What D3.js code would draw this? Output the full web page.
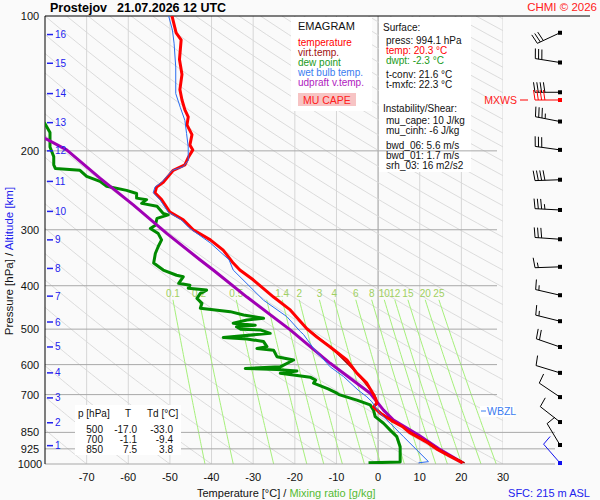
<!DOCTYPE html>
<html>
<head>
<meta charset="utf-8">
<script src="https://cdn.jsdelivr.net/npm/d3@7"></script>
<style>
body { margin: 0; background: #fafafa; }
svg { font-family: "Liberation Sans", Arial, sans-serif; }
</style>
</head>
<body>
<div id="chart"></div>
<script>
// pressure levels of the horizontal grid and temperature ticks
var pLevels = [200, 300, 400, 500, 600, 700, 850, 925, 1000];
var pLabels = [100, 200, 300, 400, 500, 600, 700, 850, 925, 1000];
var tTicks = [-70, -60, -50, -40, -30, -20, -10, 0, 10, 20, 30];
var isotherms = [-70, -60, -50, -40, -30, -20, -10, 0, 10, 20, 30];
var mixRatios = [0.1, 0.2, 0.5, 1, 1.4, 2, 3, 4, 6, 8, 10, 12, 15, 20, 25];
var mixLabels = ["0.1", "0.2", "0.5", "", "1.4", "2", "3", "4", "6", "8", "10", "12", "15", "20", "25"];

// altitude markers [km] at pressure [hPa]
var altKm = [1, 2, 3, 4, 5, 6, 7, 8, 9, 10, 11, 12, 13, 14, 15, 16];
var altP = [910, 809, 712, 626, 548, 482, 422, 366, 316, 273, 234, 200, 173, 149, 127.5, 110];

// sounding profiles: [pressure hPa, value degC]
var tempProfile = [[994,20.3],[960,17.2],[925,14.0],[898,12.0],[850,7.5],[827,6.0],[800,3.2],[770,0.5],[746,-1.1],[731,-0.3],[715,-0.6],[700,-1.1],[660,-2.7],[627,-5.1],[586,-7.5],[548,-11.5],[521,-14.7],[500,-17.0],[453,-21.1],[424,-25.1],[388,-30.0],[369,-33.2],[356,-34.8],[333,-37.2],[316,-40.3],[300,-44.4],[285,-46.8],[274,-50.0],[257,-52.0],[248,-53.6],[241,-53.2],[235,-51.6],[221,-49.2],[215,-46.4],[207,-45.6],[199,-44.5],[194,-45.2],[184,-44.7],[175,-45.9],[168,-45.6],[162,-46.4],[154,-47.1],[146,-47.6],[135,-47.1],[125,-47.7],[113,-47.3],[109,-48.5],[100,-49.5]];
var virtProfile = [[994,20.8],[960,17.6],[925,14.4],[898,12.4],[850,7.9],[800,3.5],[770,0.8],[746,-0.9],[731,-0.1],[700,-0.9],[627,-5.0],[548,-11.4],[500,-16.9]];
var dewProfile = [[994,-2.3],[990,5.3],[915,5.3],[869,4.5],[840,2.9],[811,1.3],[784,-0.7],[758,-1.1],[738,-1.9],[720,-5.1],[700,-9.4],[695,-9.9],[680,-12.0],[660,-15.5],[650,-15.0],[640,-16.3],[627,-23.5],[620,-19.5],[615,-24.3],[612,-31.9],[607,-23.5],[586,-20.3],[576,-24.3],[557,-25.1],[552,-29.1],[547,-26.7],[533,-27.5],[526,-31.5],[522,-37.2],[511,-25.9],[502,-28.3],[500,-33.0],[494,-34.0],[490,-29.5],[485,-34.8],[477,-31.5],[473,-27.5],[465,-32.3],[457,-35.5],[449,-42.7],[438,-42.3],[427,-43.5],[416,-42.7],[409,-41.2],[405,-45.6],[399,-45.2],[395,-47.9],[382,-46.8],[379,-48.4],[369,-51.6],[356,-53.9],[339,-53.5],[327,-52.8],[316,-52.0],[306,-52.8],[298,-54.7],[293,-53.5],[283,-53.1],[278,-50.4],[276,-51.6],[266,-53.1],[262,-56.8],[257,-55.6],[255,-58.0],[249,-58.0],[245,-60.4],[240,-65.2],[234,-66.8],[228,-70.0],[221,-71.6],[219,-77.5],[215,-77.9],[206,-77.9],[196,-78.8],[182,-78.8],[174,-80.0],[165,-82.0]];
var wetProfile = [[994,9.7],[988,12.1],[869,6.1],[811,2.9],[771,0.5],[745,-0.7],[726,-1.5],[708,-2.7],[684,-4.8],[638,-8.3],[607,-11.5],[552,-15.5],[514,-17.9],[506,-18.7],[469,-21.9],[431,-27.5],[369,-34.8],[350,-35.8],[321,-40.3],[297,-45.4],[285,-47.3],[274,-50.4],[257,-52.4],[248,-54.0],[241,-53.6],[235,-52.0],[221,-49.4],[217,-46.8],[210,-45.6],[196,-45.6],[183,-46.0],[171,-46.4],[160,-47.5],[149,-48.6],[130,-48.6],[115,-49.0],[107.5,-49.4],[100,-50.3]];
var parcelProfile = [[994,20.3],[925,14.6],[862,9.7],[798,3.7],[758,1.3],[695,-1.9],[596,-11.5],[502,-21.1],[424,-31.5],[369,-39.6],[350,-42.8],[306,-50.7],[264,-58.8],[230,-66.8],[199,-74.8],[187.5,-80],[180,-83]];

// wind barbs: pressure, direction (deg), speed
var windP = [995, 907, 806, 709, 626, 548, 480, 420, 363, 315, 271, 232, 199, 172, 148, 127, 109];
var windDir = [319, 329, 308, 304, 287, 289, 284, 283, 268, 274, 273, 268, 278, 281, 270, 279, 245];
var windSpd = [10, 10, 10, 10, 10, 20, 15, 15, 15, 30, 35, 40, 30, 35, 40, 30, 30];
var mxwsP = 154, mxwsDir = 270, mxwsSpd = 40;

// table values
var tableP = ["500", "700", "850"];
var tableT = ["-17.0", "-1.1", "7.5"];
var tableTd = ["-33.0", "-9.4", "3.8"];

var width = 600, height = 500;
var plotL = 45, plotR = 503, plotT = 16, plotB = 464;

var svg = d3.select("#chart").append("svg")
    .attr("width", width)
    .attr("height", height)
    .style("background", "#fafafa");

var x = d3.scaleLinear().domain([-80, 30]).range([plotL, plotR]);
var y = d3.scaleLog().domain([100, 1000]).range([plotT, plotB]);

svg.append("clipPath").attr("id", "plotclip")
  .append("rect").attr("x", plotL).attr("y", plotT)
  .attr("width", plotR - plotL).attr("height", plotB - plotT);

var grid = svg.append("g").attr("clip-path", "url(#plotclip)");

// isotherms
grid.selectAll(".iso").data(isotherms).enter().append("line")
    .attr("x1", d => x(d)).attr("x2", d => x(d))
    .attr("y1", plotT).attr("y2", plotB)
    .attr("stroke", d => d == 0 ? "#9a9a9a" : "#d6d6d6")
    .attr("stroke-width", 1);

// dry adiabats
var adiaP = d3.range(100, 1001, 10);
d3.range(-80, 340, 10).forEach(function(th) {
  var pts = adiaP.map(p => [p, (th + 273.15) * Math.pow(p / 1000, 0.286) - 273.15]);
  grid.append("path")
    .attr("d", d3.line().x(d => x(d[1])).y(d => y(d[0]))(pts))
    .attr("fill", "none").attr("stroke", "#d8d8d8").attr("stroke-width", 0.9);
});

// saturation mixing ratio lines
function tdFromW(w, p) {
  var e = p * w / (622 + w);
  var l = Math.log(e / 6.112);
  return 243.5 * l / (17.67 - l);
}
var mixP = d3.range(430, 1001, 10);
mixRatios.forEach(function(w, i) {
  var pts = mixP.map(p => [p, tdFromW(w, p)]);
  grid.append("path")
    .attr("d", d3.line().x(d => x(d[1])).y(d => y(d[0]))(pts))
    .attr("fill", "none").attr("stroke", "#a6f07a").attr("stroke-width", 1);
  if (mixLabels[i] != "") {
    svg.append("text")
      .attr("x", x(tdFromW(w, 430))).attr("y", y(430) - 2.5)
      .attr("text-anchor", "middle")
      .style("font-size", "10px").style("fill", "#a0d060")
      .text(mixLabels[i]);
  }
});

// info box (surface / instability)
svg.append("rect").attr("x", 379).attr("y", 17).attr("width", 92).attr("height", 155).attr("fill", "#ffffff");

// pressure lines
svg.selectAll(".pline").data(pLevels).enter().append("line")
    .attr("x1", plotL).attr("x2", d => d >= 850 ? 555 : 497)
    .attr("y1", d => y(d)).attr("y2", d => y(d))
    .attr("stroke", "#a8a8a8").attr("stroke-width", 1);

// top border and left axis
svg.append("line").attr("x1", plotL).attr("x2", 590).attr("y1", plotT).attr("y2", plotT).attr("stroke", "#000");
svg.append("line").attr("x1", plotL).attr("x2", plotL).attr("y1", plotT).attr("y2", plotB).attr("stroke", "#000");

// profiles
var line = d3.line().x(d => x(d[1])).y(d => y(d[0]));
var prof = svg.append("g").attr("clip-path", "url(#plotclip)")
    .attr("fill", "none").attr("stroke-linejoin", "round");
prof.append("path").attr("d", line(dewProfile)).attr("stroke", "#008a00").attr("stroke-width", 3);
prof.append("path").attr("d", line(parcelProfile)).attr("stroke", "#a000b4").attr("stroke-width", 3);
prof.append("path").attr("d", line(virtProfile)).attr("stroke", "#a00000").attr("stroke-width", 1.5);
prof.append("path").attr("d", line(tempProfile)).attr("stroke", "#ff0000").attr("stroke-width", 3);
prof.append("path").attr("d", line(wetProfile)).attr("stroke", "#2a6cf0").attr("stroke-width", 1);

// altitude markers
var alt = svg.append("g").style("fill", "#2222ee").style("font-size", "10px");
altKm.forEach(function(k, i) {
  alt.append("line").attr("x1", 47).attr("x2", 53).attr("y1", y(altP[i])).attr("y2", y(altP[i]))
    .attr("stroke", "#2222ee").attr("stroke-width", 1.5);
  alt.append("text").attr("x", 55).attr("y", y(altP[i]) + 3.5).text(k);
});

// pressure labels
svg.selectAll(".plab").data(pLabels).enter().append("text")
    .attr("x", 30).attr("y", d => y(d) + 4)
    .attr("text-anchor", "middle")
    .style("font-size", "11px").style("fill", "#111")
    .text(d => d);

// temperature ticks
svg.selectAll(".tlab").data(tTicks).enter().append("text")
    .attr("x", d => x(d)).attr("y", 481)
    .attr("text-anchor", "middle")
    .style("font-size", "11px").style("fill", "#111")
    .text(d => d);

// axis titles
var ylab = svg.append("text")
    .attr("transform", "translate(13,261)rotate(-90)")
    .attr("text-anchor", "middle").style("font-size", "11.5px");
ylab.append("tspan").style("fill", "#111").text("Pressure [hPa] / ");
ylab.append("tspan").style("fill", "#2222ee").text("Altitude [km]");

var xlab = svg.append("text").attr("x", 197).attr("y", 497).style("font-size", "11px");
xlab.append("tspan").style("fill", "#111").text("Temperature [°C]  /  ");
xlab.append("tspan").style("fill", "#55bb33").text("Mixing ratio [g/kg]");

svg.append("text").attr("x", 590).attr("y", 497).attr("text-anchor", "end")
    .style("font-size", "11px").style("fill", "#2222ee").text("SFC: 215 m ASL");

// title
svg.append("text").attr("x", 50).attr("y", 12).style("font-size", "12.5px").style("font-weight", "bold").text("Prostejov");
svg.append("text").attr("x", 117).attr("y", 12).style("font-size", "12.5px").style("font-weight", "bold").text("21.07.2026 12 UTC");
svg.append("text").attr("x", 597).attr("y", 11).attr("text-anchor", "end")
    .style("font-size", "11.5px").style("fill", "#ff2020").text("CHMI © 2026");

// legend box
svg.append("rect").attr("x", 291).attr("y", 17).attr("width", 81).attr("height", 94).attr("fill", "#ffffff");
var legItems = [["EMAGRAM", "#111"], ["temperature", "#ff0000"], ["virt.temp.", "#a01010"], ["dew point", "#1a9a1a"], ["wet bulb temp.", "#3a7cf0"], ["udpraft v.temp.", "#b020c0"]];
var legY = [30, 46, 56, 66, 76, 86];
legItems.forEach(function(d, i) {
  svg.append("text").attr("x", 298).attr("y", legY[i])
    .style("font-size", i == 0 ? "11px" : "10px").style("fill", d[1]).text(d[0]);
});
svg.append("rect").attr("x", 298).attr("y", 93).attr("width", 58).attr("height", 13).attr("fill", "#f7c4c4");
svg.append("text").attr("x", 303).attr("y", 103.5).style("font-size", "10.5px").style("fill", "#ff2020").text("MU CAPE");

// info texts
var info = [["Surface:", 383, 31, "#111"], ["press: 994.1 hPa", 386, 43.7, "#111"], ["temp: 20.3 °C", 386, 53.7, "#ff0000"],
  ["dwpt: -2.3 °C", 386, 63.7, "#1a9a1a"], ["t-conv: 21.6 °C", 386, 78, "#111"], ["t-mxfc: 22.3 °C", 386, 88, "#111"],
  ["Instability/Shear:", 383, 112.4, "#111"], ["mu_cape: 10 J/kg", 386, 123.7, "#111"], ["mu_cinh: -6 J/kg", 386, 133.7, "#111"],
  ["bwd_06: 5.6 m/s", 386, 148.7, "#111"], ["bwd_01: 1.7 m/s", 386, 158.7, "#111"], ["srh_03: 16 m2/s2", 386, 168.7, "#111"]];
info.forEach(function(d) {
  svg.append("text").attr("x", d[1]).attr("y", d[2]).style("font-size", "10px").style("fill", d[3]).text(d[0]);
});

// table box
svg.append("rect").attr("x", 75).attr("y", 405).attr("width", 106).attr("height", 50).attr("fill", "#ffffff");
var tab = svg.append("g").style("font-size", "10px").style("fill", "#111");
tab.append("text").attr("x", 78).attr("y", 417).text("p [hPa]");
tab.append("text").attr("x", 125).attr("y", 417).text("T");
tab.append("text").attr("x", 147).attr("y", 417).text("Td [°C]");
tableP.forEach(function(p, i) {
  var yy = 432.7 + i * 10;
  tab.append("text").attr("x", 103).attr("y", yy).attr("text-anchor", "end").text(p);
  tab.append("text").attr("x", 137).attr("y", yy).attr("text-anchor", "end").text(tableT[i]);
  tab.append("text").attr("x", 173).attr("y", yy).attr("text-anchor", "end").text(tableTd[i]);
});

// WBZL marker
svg.append("rect").attr("x", 480).attr("y", 406).attr("width", 34).attr("height", 11).attr("fill", "#ffffff");
svg.append("line").attr("x1", 481).attr("x2", 486).attr("y1", 411).attr("y2", 411).attr("stroke", "#3a7cf0");
svg.append("text").attr("x", 487).attr("y", 415).style("font-size", "10.5px").style("fill", "#3a7cf0").text("WBZL");

// wind barbs
var bx0 = 560;
function drawBarb(p, dir, spd, col) {
  var g = svg.append("g").attr("stroke", col).attr("stroke-width", 1).attr("fill", "none");
  var py = y(p);
  var r = dir * Math.PI / 180;
  var ux = Math.sin(r), uy = -Math.cos(r);
  var L = 25;
  var tx = bx0 + ux * L, ty = py + uy * L;
  g.append("line").attr("x1", bx0).attr("y1", py).attr("x2", tx).attr("y2", ty);
  var nx = -uy, ny = ux;
  var full = Math.floor(spd / 10), half = (spd % 10) >= 5;
  var pos = 0;
  for (var i = 0; i < full; i++) {
    var sx = tx - ux * pos, sy = ty - uy * pos;
    g.append("line").attr("x1", sx).attr("y1", sy)
      .attr("x2", sx + nx * 10 + ux * 1.5).attr("y2", sy + ny * 10 + uy * 1.5);
    pos += 3.3;
  }
  if (half) {
    var hx = tx - ux * pos, hy = ty - uy * pos;
    g.append("line").attr("x1", hx).attr("y1", hy)
      .attr("x2", hx + nx * 5 + ux * 0.8).attr("y2", hy + ny * 5 + uy * 0.8);
  }
  svg.append("rect").attr("x", bx0 - 2).attr("y", py - 2).attr("width", 4).attr("height", 4).attr("fill", col);
}
windP.forEach(function(p, i) {
  drawBarb(p, windDir[i], windSpd[i], i == 0 ? "#1010ee" : "#000");
});
drawBarb(mxwsP, mxwsDir, mxwsSpd, "#ff0000");
svg.append("text").attr("x", 517).attr("y", y(mxwsP) + 4).attr("text-anchor", "end")
    .style("font-size", "10.5px").style("fill", "#ff2020").text("MXWS");
svg.append("line").attr("x1", 520).attr("x2", 528).attr("y1", y(mxwsP)).attr("y2", y(mxwsP)).attr("stroke", "#ff0000");
</script>
</body>
</html>
